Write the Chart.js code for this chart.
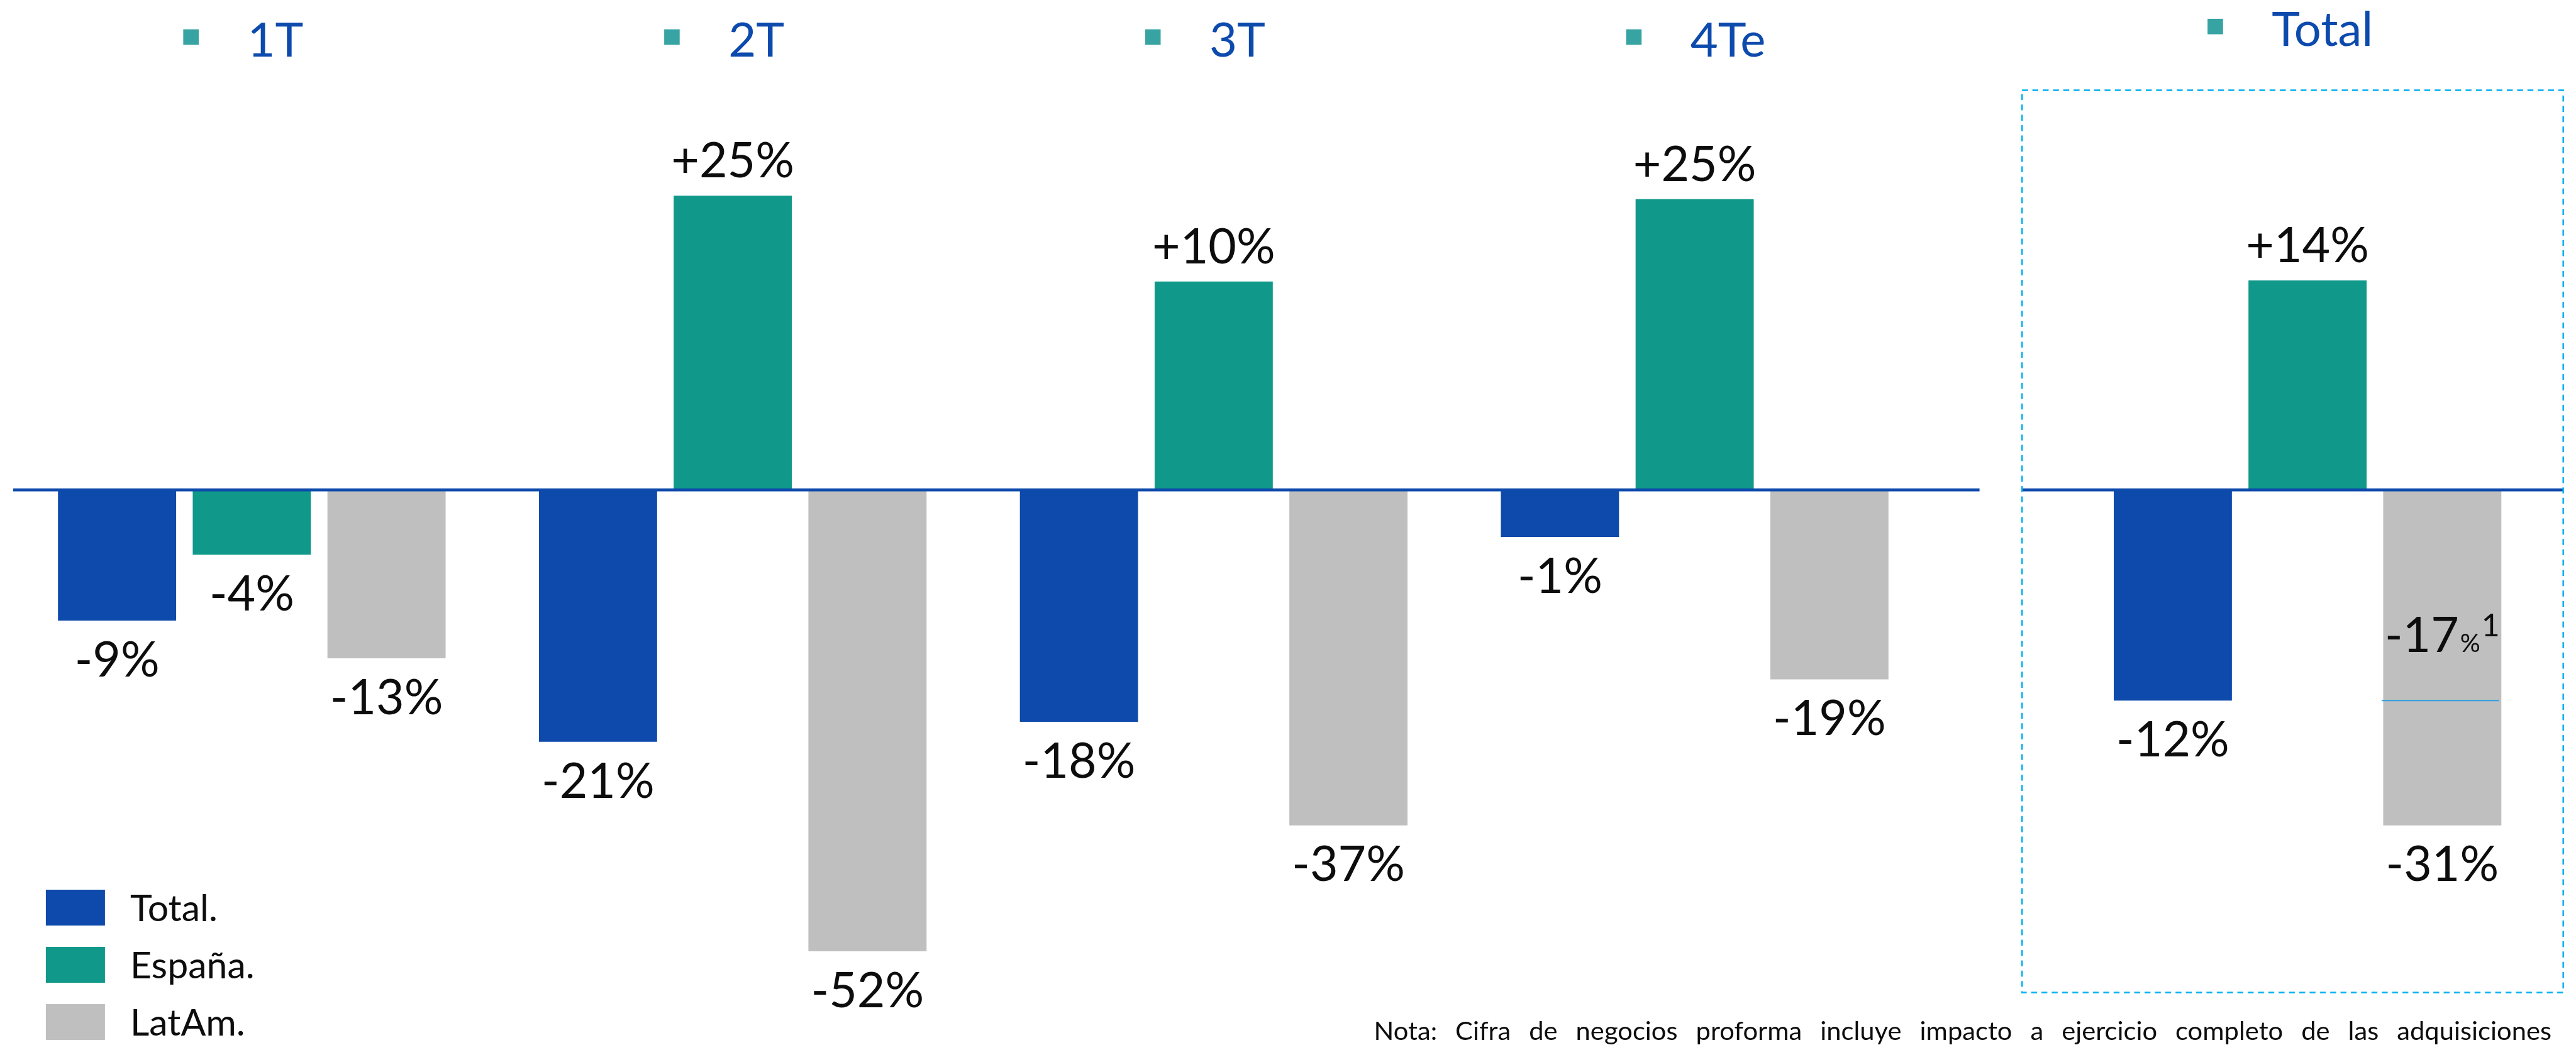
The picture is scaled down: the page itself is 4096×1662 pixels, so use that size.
<!DOCTYPE html>
<html>
<head>
<meta charset="utf-8">
<script src="https://cdn.jsdelivr.net/npm/chart.js@4.4.0/dist/chart.umd.min.js"></script>
<style>
html, body { margin: 0; padding: 0; background: #ffffff; overflow: hidden; }
#wrap { position: relative; width: 4096px; height: 1662px; }
canvas { position: absolute; left: 0; top: 0; }
</style>
</head>
<body>
<div id="wrap">
  <canvas id="quarters" width="4096" height="1662"></canvas>
  <canvas id="year" width="4096" height="1662"></canvas>
</div>
<script>
// ---------------- DATA ----------------
const quarterCategories = ['1T', '2T', '3T', '4Te'];
const yearCategory = ['Total'];
const seriesNames = ['Total.', 'España.', 'LatAm.'];

// Printed percentages (labels)
const totalPrinted  = [-9, -21, -18, -1];
const espanaPrinted = [-4, 25, 10, 25];
const latamPrinted  = [-13, -52, -37, -19];
const yearPrinted   = [-12, 14, -31];     // Total, España, LatAm (full year)
const latamAdjPrinted = -17;               // LatAm adjusted figure, footnote 1

// Bar lengths as drawn in the picture (the bars are not to scale);
// unit = 1/25 of the drawn +25% bar
const totalBars  = [-11.1, -21.4, -19.7, -4.0];
const espanaBars = [-5.5, 25.0, 17.7, 24.7];
const latamBars  = [-14.3, -39.2, -28.5, -16.1];
const yearBars   = [-17.9, 17.8, -28.5];
const latamAdjBar = -17.9;

const noteText = 'Nota: Cifra de negocios proforma incluye impacto a ejercicio completo de las adquisiciones';

// ---------------- STYLE ----------------
const COLORS = ['#0d4aab', '#10998a', '#bfbfbf'];
const FONT = 'Lato, "Open Sans", "DejaVu Sans", sans-serif';
const Y_MIN = -45, Y_MAX = 40;
const PAD_TOP = 30.4, PAD_BOTTOM = 40.4;

function fmt(v) { return (v > 0 ? '+' : '') + v + '%'; }

function barStyle(i) {
  return {
    backgroundColor: COLORS[i],
    borderWidth: 0,
    categoryPercentage: 0.8404,
    barPercentage: 0.877
  };
}

const decorPlugin = {
  id: 'decor',
  afterDatasetsDraw(chart, args, opts) {
    const ctx = chart.ctx;
    const xs = chart.scales.x, ys = chart.scales.y;
    const y0 = ys.getPixelForValue(0);
    ctx.save();

    // zero line
    ctx.strokeStyle = '#0d4aab';
    ctx.lineWidth = 4.7;
    ctx.beginPath();
    ctx.moveTo(opts.zeroFrom, y0);
    ctx.lineTo(opts.zeroTo, y0);
    ctx.stroke();

    // value labels
    ctx.fillStyle = '#0d0d0d';
    ctx.font = '77px ' + FONT;
    ctx.textAlign = 'center';
    ctx.textBaseline = 'alphabetic';
    chart.data.datasets.forEach((ds, di) => {
      const meta = chart.getDatasetMeta(di);
      meta.data.forEach((el, i) => {
        const p = ds.printed[i];
        if (p === null || p === undefined) return;
        const v = ds.data[i];
        const y = v >= 0 ? el.y - 29 : el.y + 88.7;
        ctx.fillText(fmt(p), el.x, y);
      });
    });

    // category headers (bullet + blue text)
    chart.data.labels.forEach((lab, i) => {
      const cx = xs.getPixelForValue(i);
      const left = cx + opts.headerDx;
      const base = opts.headerBase;
      ctx.fillStyle = '#38a3a3';
      ctx.fillRect(left - 102, base - 30.7 - 12.3, 24.6, 24.6);
      ctx.fillStyle = '#0d4aad';
      ctx.font = '76px ' + FONT;
      ctx.textAlign = 'left';
      ctx.fillText(lab, left, base);
    });

    if (opts.legend) {
      ctx.font = '59px ' + FONT;
      ctx.textAlign = 'left';
      chart.data.datasets.forEach((ds, di) => {
        const top = 1415 + di * 91;
        ctx.fillStyle = ds.backgroundColor;
        ctx.fillRect(72.9, top, 94, 57);
        ctx.fillStyle = '#0d0d0d';
        ctx.fillText(ds.label, 207, top + 28.5 + 21);
      });
    }

    if (opts.box) {
      ctx.strokeStyle = '#00b0f0';
      ctx.lineWidth = 2.5;
      ctx.setLineDash([9.4, 7]);
      ctx.strokeRect(3215.2, 143.4, 4075.7 - 3215.2, 1578.6 - 143.4);
      ctx.setLineDash([]);
    }

    if (opts.adjusted) {
      const el = chart.getDatasetMeta(2).data[0];
      const ly = ys.getPixelForValue(latamAdjBar);
      ctx.strokeStyle = '#2a9fe0';
      ctx.lineWidth = 2;
      ctx.beginPath();
      ctx.moveTo(el.x - el.width / 2 - 2.5, ly);
      ctx.lineTo(el.x + el.width / 2 - 3.5, ly);
      ctx.stroke();
      // "-17%¹" label
      const main = String(latamAdjPrinted);
      ctx.fillStyle = '#0d0d0d';
      ctx.textAlign = 'left';
      ctx.font = '77px ' + FONT;
      const wMain = ctx.measureText(main).width;
      ctx.font = '40px ' + FONT;
      const wPct = ctx.measureText('%').width;
      ctx.font = '50px ' + FONT;
      const wSup = ctx.measureText('1').width;
      const total = wMain + wPct + wSup + 4;
      let x = el.x - total / 2;
      const base = ly - 77;
      ctx.font = '77px ' + FONT;
      ctx.fillText(main, x, base);
      x += wMain + 2;
      ctx.font = '40px ' + FONT;
      ctx.fillText('%', x, base);
      x += wPct + 2;
      ctx.font = '50px ' + FONT;
      ctx.fillText('1', x, base - 25.5);
    }

    if (opts.note) {
      ctx.fillStyle = '#0d0d0d';
      ctx.font = '41px ' + FONT;
      ctx.textAlign = 'left';
      const words = noteText.split(' ');
      const widths = words.map(w => ctx.measureText(w).width);
      const sum = widths.reduce((a, b) => a + b, 0);
      const L = 2184.5, R = 4057, GAP = 29;
      const sx = (R - L - GAP * (words.length - 1)) / sum;
      let x = L;
      words.forEach((w, i) => {
        ctx.save();
        ctx.translate(x, 1654);
        ctx.scale(sx, 1);
        ctx.fillText(w, 0, 0);
        ctx.restore();
        x += widths[i] * sx + GAP;
      });
    }
    ctx.restore();
  }
};

const commonOptions = (padLeft, padRight, decor) => ({
  responsive: false,
  animation: false,
  devicePixelRatio: 1,
  layout: { padding: { left: padLeft, right: padRight, top: PAD_TOP, bottom: PAD_BOTTOM } },
  scales: {
    x: { display: false },
    y: { display: false, min: Y_MIN, max: Y_MAX }
  },
  plugins: {
    legend: { display: false },
    tooltip: { enabled: false },
    decor: decor
  }
});

new Chart(document.getElementById('quarters'), {
  type: 'bar',
  data: {
    labels: quarterCategories,
    datasets: [
      Object.assign({ label: seriesNames[0], data: totalBars, printed: totalPrinted }, barStyle(0)),
      Object.assign({ label: seriesNames[1], data: espanaBars, printed: espanaPrinted }, barStyle(1)),
      Object.assign({ label: seriesNames[2], data: latamBars, printed: latamPrinted }, barStyle(2))
    ]
  },
  options: commonOptions(18, 1019, {
    zeroFrom: 21, zeroTo: 3147.6,
    headerDx: -7, headerBase: 89.6,
    legend: true, note: true, box: false, adjusted: false
  }),
  plugins: [decorPlugin]
});

new Chart(document.getElementById('year'), {
  type: 'bar',
  data: {
    labels: yearCategory,
    datasets: [
      Object.assign({ label: seriesNames[0], data: [yearBars[0]], printed: [yearPrinted[0]] }, barStyle(0)),
      Object.assign({ label: seriesNames[1], data: [yearBars[1]], printed: [yearPrinted[1]] }, barStyle(1)),
      Object.assign({ label: seriesNames[2], data: [yearBars[2]], printed: [yearPrinted[2]] }, barStyle(2))
    ]
  },
  options: commonOptions(3286.8, 44.5, {
    zeroFrom: 3215.2, zeroTo: 4075.7,
    headerDx: -57, headerBase: 72.9,
    legend: false, note: false, box: true, adjusted: true
  }),
  plugins: [decorPlugin]
});
</script>
</body>
</html>
